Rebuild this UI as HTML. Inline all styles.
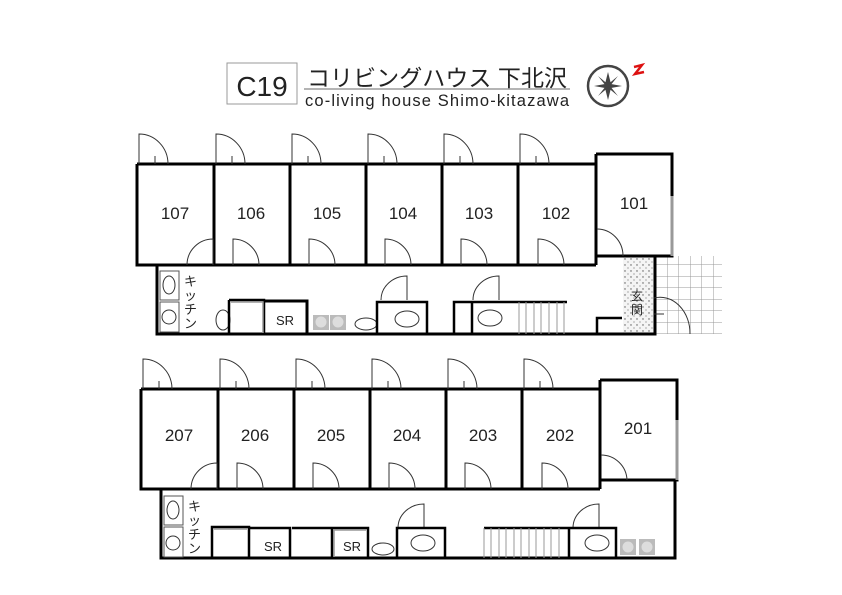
<!DOCTYPE html>
<html><head><meta charset="utf-8"><style>
html,body{margin:0;padding:0;background:#fff;width:842px;height:595px;overflow:hidden}
svg{display:block}
text{font-family:"Liberation Sans","Noto Sans CJK JP",sans-serif;fill:#222}
</style></head><body>
<svg width="842" height="595" viewBox="0 0 842 595" xmlns="http://www.w3.org/2000/svg">
<defs>
<pattern id="grid" width="11.5" height="11.5" patternUnits="userSpaceOnUse"><path d="M0 0H11.5M0 0V11.5" stroke="#999" stroke-width="1" fill="none"/></pattern>
<pattern id="dots" width="6" height="6" patternUnits="userSpaceOnUse"><rect width="6" height="6" fill="#f4f4f4"/><circle cx="1" cy="1" r="0.7" fill="#555"/><circle cx="4" cy="4" r="0.6" fill="#777"/></pattern>
</defs>
<rect x="227" y="63" width="70" height="41" fill="#fff" stroke="#999" stroke-width="1"/>
<text x="262" y="96" font-size="28" text-anchor="middle">C19</text>
<text x="307" y="86" font-size="23" textLength="260">コリビングハウス 下北沢</text>
<line x1="304" y1="89" x2="570" y2="89" stroke="#888" stroke-width="1.2"/>
<text x="305" y="106" font-size="16.5" textLength="264">co-living house Shimo-kitazawa</text>
<circle cx="608" cy="86" r="20" fill="none" stroke="#444" stroke-width="2.5"/>
<path d="M608 72 L611 84 L622 86 L611 88 L608 100 L605 88 L594 86 L605 84Z" fill="#444"/>
<path d="M598 76 L610 86 L618 96 L606 86Z M618 76 L606 86 L598 96 L610 86Z" fill="#444"/>
<path d="M634 67 L642 65 L635 74 L644 72" stroke="#d11" stroke-width="2.5" fill="none"/>

<g stroke="#000" fill="none">
<rect x="654" y="256" width="68" height="78" fill="url(#grid)" stroke="none"/>
<rect x="623" y="256" width="31" height="78" fill="url(#dots)" stroke="none"/>
<path d="M137 164H596 M137 164V265H596" stroke-width="3"/>
<path d="M214 164V265 M290 164V265 M366 164V265 M442 164V265 M518 164V265 M596 154V265" stroke-width="3"/>
<path d="M596 154H672V256H596" stroke-width="3"/>
<path d="M672 196V256" stroke="#999" stroke-width="3"/>
<path d="M157 265V334H655V256" stroke-width="3"/>
<g stroke="#333" stroke-width="1">
<path d="M139 164V134A29 30 0 0 1 168 164M155 156V164"/>
<path d="M216 164V134A29 30 0 0 1 245 164M232 156V164"/>
<path d="M292 164V134A29 30 0 0 1 321 164M308 156V164"/>
<path d="M368 164V134A29 30 0 0 1 397 164M384 156V164"/>
<path d="M444 164V134A29 30 0 0 1 473 164M460 156V164"/>
<path d="M520 164V134A29 30 0 0 1 549 164M536 156V164"/>
<path d="M213 265V239A26 26 0 0 0 187 265"/>
<path d="M233 265V239A26 26 0 0 1 259 265"/>
<path d="M309 265V239A26 26 0 0 1 335 265"/>
<path d="M385 265V239A26 26 0 0 1 411 265"/>
<path d="M461 265V239A26 26 0 0 1 487 265"/>
<path d="M538 265V239A26 26 0 0 1 564 265"/>
<path d="M597 229A26 27 0 0 1 623 256"/>
<path d="M654 298A30 36 0 0 1 690 334M654 314H664"/>
<path d="M381 300A26 24 0 0 1 407 276V300"/>
<path d="M473 300A26 24 0 0 1 499 276V300"/>
</g>
<rect x="160" y="271" width="19" height="29" stroke="#555"/>
<ellipse cx="169" cy="285" rx="6" ry="9" stroke="#333"/>
<rect x="160" y="302" width="19" height="30" stroke="#555"/>
<circle cx="169" cy="317" r="7" stroke="#333"/>
<text x="184" y="286" font-size="13" stroke="none">キ</text>
<text x="184" y="300" font-size="13" stroke="none">ッ</text>
<text x="184" y="314" font-size="13" stroke="none">チ</text>
<text x="184" y="328" font-size="13" stroke="none">ン</text>
<ellipse cx="223" cy="320" rx="7" ry="10" stroke="#333"/>
<path d="M229 300H264V334M229 300V334" stroke-width="2.5"/>
<path d="M231 302H263V333" stroke="#999" stroke-width="1.5"/>
<path d="M264 301H307V334" stroke-width="3"/>
<text x="276" y="325" font-size="13" stroke="none">SR</text>
<rect x="313" y="315" width="16" height="15" fill="#bbb" stroke="none"/>
<rect x="330" y="315" width="16" height="15" fill="#bbb" stroke="none"/>
<circle cx="321" cy="322" r="5.5" fill="#ddd" stroke="none"/><circle cx="338" cy="322" r="5.5" fill="#ddd" stroke="none"/>
<ellipse cx="366" cy="324" rx="11" ry="6" stroke="#333"/>
<path d="M377 334V302H427V334" stroke-width="2.5"/>
<ellipse cx="407" cy="319" rx="12" ry="8" stroke="#333"/>
<path d="M454 334V302H567" stroke-width="2.5"/>
<path d="M472 302V334" stroke-width="2.5"/>
<ellipse cx="490" cy="318" rx="12" ry="8" stroke="#333"/>
<path d="M519 302V334M526 302V334M534 302V334M541 302V334M549 302V334M557 302V334M564 302V334" stroke="#999"/>
<path d="M597 334V318H622" stroke-width="2.5"/>
<text x="631" y="300" font-size="12" stroke="none">玄</text>
<text x="631" y="314" font-size="12" stroke="none">関</text>
<text x="175" y="219" font-size="17" text-anchor="middle" stroke="none">107</text>
<text x="251" y="219" font-size="17" text-anchor="middle" stroke="none">106</text>
<text x="327" y="219" font-size="17" text-anchor="middle" stroke="none">105</text>
<text x="403" y="219" font-size="17" text-anchor="middle" stroke="none">104</text>
<text x="479" y="219" font-size="17" text-anchor="middle" stroke="none">103</text>
<text x="556" y="219" font-size="17" text-anchor="middle" stroke="none">102</text>
<text x="634" y="209" font-size="17" text-anchor="middle" stroke="none">101</text>

<path d="M141 389H600 M141 389V489H600" stroke-width="3"/>
<path d="M218 389V489 M294 389V489 M370 389V489 M446 389V489 M522 389V489 M600 380V489" stroke-width="3"/>
<path d="M600 380H677V480H600" stroke-width="3"/>
<path d="M677 420V480" stroke="#999" stroke-width="3"/>
<path d="M161 489V558H675V480" stroke-width="3"/>
<g stroke="#333" stroke-width="1">
<path d="M143 389V359A29 30 0 0 1 172 389M159 381V389"/>
<path d="M220 389V359A29 30 0 0 1 249 389M236 381V389"/>
<path d="M296 389V359A29 30 0 0 1 325 389M312 381V389"/>
<path d="M372 389V359A29 30 0 0 1 401 389M388 381V389"/>
<path d="M448 389V359A29 30 0 0 1 477 389M464 381V389"/>
<path d="M524 389V359A29 30 0 0 1 553 389M540 381V389"/>
<path d="M217 489V463A26 26 0 0 0 191 489"/>
<path d="M237 489V463A26 26 0 0 1 263 489"/>
<path d="M313 489V463A26 26 0 0 1 339 489"/>
<path d="M389 489V463A26 26 0 0 1 415 489"/>
<path d="M465 489V463A26 26 0 0 1 491 489"/>
<path d="M542 489V463A26 26 0 0 1 568 489"/>
<path d="M601 455A26 26 0 0 1 627 480"/>
<path d="M398 528A26 24 0 0 1 424 504V528"/>
<path d="M573 528A26 24 0 0 1 599 504V528"/>
</g>
<rect x="164" y="496" width="19" height="29" stroke="#555"/>
<ellipse cx="173" cy="510" rx="6" ry="9" stroke="#333"/>
<rect x="164" y="527" width="19" height="30" stroke="#555"/>
<circle cx="173" cy="543" r="7" stroke="#333"/>
<text x="188" y="511" font-size="13" stroke="none">キ</text>
<text x="188" y="525" font-size="13" stroke="none">ッ</text>
<text x="188" y="539" font-size="13" stroke="none">チ</text>
<text x="188" y="553" font-size="13" stroke="none">ン</text>
<path d="M212 558V527H249V558" stroke-width="2.5"/>
<path d="M214 529H247" stroke="#999" stroke-width="1.5"/>
<path d="M249 528H290V558" stroke-width="2.5"/>
<text x="264" y="551" font-size="13" stroke="none">SR</text>
<path d="M292 528H368V558 M332 528V558" stroke-width="2.5"/>
<path d="M334 530H366M334 530V557" stroke="#999" stroke-width="1.5"/>
<text x="343" y="551" font-size="13" stroke="none">SR</text>
<ellipse cx="383" cy="549" rx="11" ry="6" stroke="#333"/>
<path d="M397 558V528H445V558" stroke-width="2.5"/>
<ellipse cx="423" cy="543" rx="12" ry="8" stroke="#333"/>
<path d="M484 528H616V558 M569 528V558" stroke-width="2.5"/>
<ellipse cx="597" cy="543" rx="12" ry="8" stroke="#333"/>
<path d="M484 528V558M491 528V558M499 528V558M506 528V558M514 528V558M521 528V558M529 528V558M536 528V558M544 528V558M551 528V558M559 528V558" stroke="#999"/>
<rect x="620" y="539" width="16" height="16" fill="#bbb" stroke="none"/>
<rect x="639" y="539" width="16" height="16" fill="#bbb" stroke="none"/>
<circle cx="628" cy="547" r="5.5" fill="#ddd" stroke="none"/><circle cx="647" cy="547" r="5.5" fill="#ddd" stroke="none"/>
<text x="179" y="441" font-size="17" text-anchor="middle" stroke="none">207</text>
<text x="255" y="441" font-size="17" text-anchor="middle" stroke="none">206</text>
<text x="331" y="441" font-size="17" text-anchor="middle" stroke="none">205</text>
<text x="407" y="441" font-size="17" text-anchor="middle" stroke="none">204</text>
<text x="483" y="441" font-size="17" text-anchor="middle" stroke="none">203</text>
<text x="560" y="441" font-size="17" text-anchor="middle" stroke="none">202</text>
<text x="638" y="434" font-size="17" text-anchor="middle" stroke="none">201</text>
</g>
</svg>
</body></html>
